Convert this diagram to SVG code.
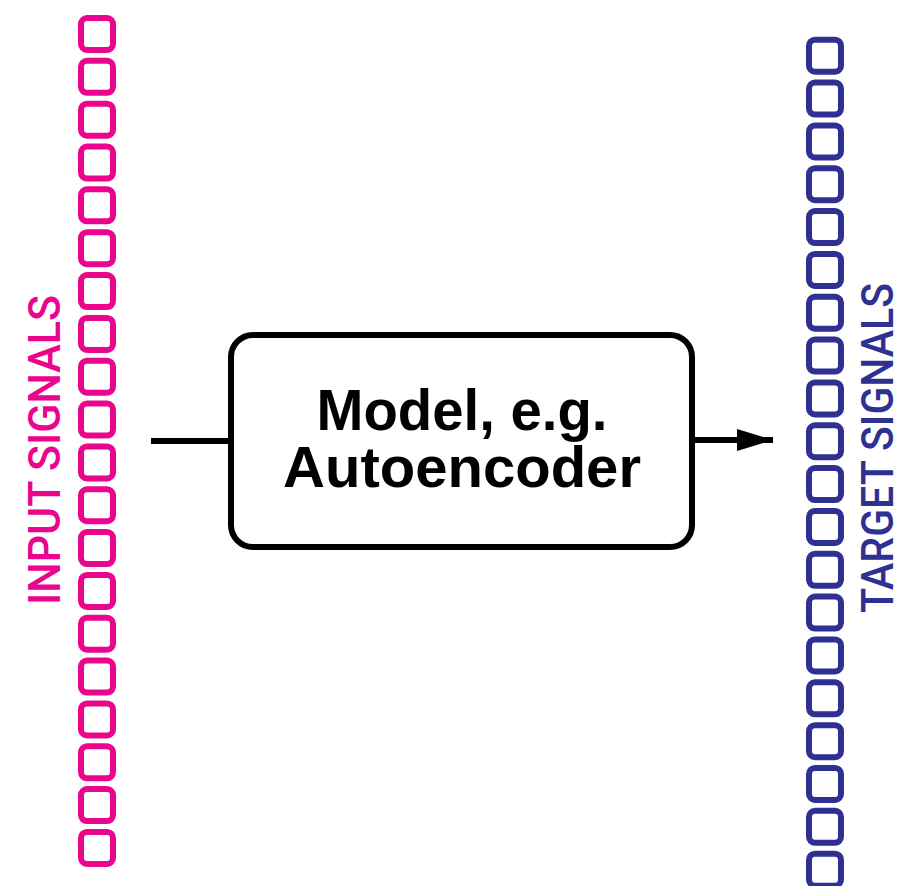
<svg xmlns="http://www.w3.org/2000/svg" xmlns:xlink="http://www.w3.org/1999/xlink" width="897" height="886" viewBox="0 0 897 886">
  <style>
    .cell { fill: none; stroke-width: 6; }
    .in { stroke: #EA068C; }
    .out { stroke: #2E3192; }
    .side { font-family: Roboto, "Liberation Sans", Arial, sans-serif; font-size: 45px; font-weight: 500; }
    .model { font-family: "Liberation Sans", Arial, sans-serif; font-size: 58px; font-weight: bold; fill: #000; text-anchor: middle; }
    .wire { stroke: #000; stroke-width: 6; fill: none; }
  </style>
  <defs>
    <rect id="cell" width="32" height="32" rx="6" ry="6"/>
    <marker id="arrow" markerUnits="userSpaceOnUse" markerWidth="38" markerHeight="24" refX="36" refY="11" orient="auto">
      <path d="M0,0 L36,11 L0,22 Z" fill="#000"/>
    </marker>
  </defs>

  <rect width="897" height="886" fill="#fff"/>

  <!-- input signal column -->
  <g id="input-signals" class="cell in">
    <use xlink:href="#cell" x="81" y="18"/>
    <use xlink:href="#cell" x="81" y="60.84"/>
    <use xlink:href="#cell" x="81" y="103.68"/>
    <use xlink:href="#cell" x="81" y="146.52"/>
    <use xlink:href="#cell" x="81" y="189.36"/>
    <use xlink:href="#cell" x="81" y="232.2"/>
    <use xlink:href="#cell" x="81" y="275.04"/>
    <use xlink:href="#cell" x="81" y="317.88"/>
    <use xlink:href="#cell" x="81" y="360.72"/>
    <use xlink:href="#cell" x="81" y="403.56"/>
    <use xlink:href="#cell" x="81" y="446.4"/>
    <use xlink:href="#cell" x="81" y="489.24"/>
    <use xlink:href="#cell" x="81" y="532.08"/>
    <use xlink:href="#cell" x="81" y="574.92"/>
    <use xlink:href="#cell" x="81" y="617.76"/>
    <use xlink:href="#cell" x="81" y="660.6"/>
    <use xlink:href="#cell" x="81" y="703.44"/>
    <use xlink:href="#cell" x="81" y="746.28"/>
    <use xlink:href="#cell" x="81" y="789.12"/>
    <use xlink:href="#cell" x="81" y="831.96"/>
  </g>
  <g id="input-label">
    <text class="side" fill="#EA068C" text-anchor="middle" textLength="310" lengthAdjust="spacingAndGlyphs" transform="translate(60,450) rotate(-90)">INPUT SIGNALS</text>
  </g>

  <!-- target signal column -->
  <g id="target-signals" class="cell out">
    <use xlink:href="#cell" x="809" y="39.7"/>
    <use xlink:href="#cell" x="809" y="82.54"/>
    <use xlink:href="#cell" x="809" y="125.38"/>
    <use xlink:href="#cell" x="809" y="168.22"/>
    <use xlink:href="#cell" x="809" y="211.06"/>
    <use xlink:href="#cell" x="809" y="253.9"/>
    <use xlink:href="#cell" x="809" y="296.74"/>
    <use xlink:href="#cell" x="809" y="339.58"/>
    <use xlink:href="#cell" x="809" y="382.42"/>
    <use xlink:href="#cell" x="809" y="425.26"/>
    <use xlink:href="#cell" x="809" y="468.1"/>
    <use xlink:href="#cell" x="809" y="510.94"/>
    <use xlink:href="#cell" x="809" y="553.78"/>
    <use xlink:href="#cell" x="809" y="596.62"/>
    <use xlink:href="#cell" x="809" y="639.46"/>
    <use xlink:href="#cell" x="809" y="682.3"/>
    <use xlink:href="#cell" x="809" y="725.14"/>
    <use xlink:href="#cell" x="809" y="767.98"/>
    <use xlink:href="#cell" x="809" y="810.82"/>
    <use xlink:href="#cell" x="809" y="853.66"/>
  </g>
  <g id="target-label">
    <text class="side" fill="#2E3192" text-anchor="middle" textLength="330" lengthAdjust="spacingAndGlyphs" transform="translate(893,448) rotate(-90)">TARGET SIGNALS</text>
  </g>

  <!-- model block -->
  <g id="model">
    <rect x="231" y="335" width="461" height="212" rx="22" ry="22" fill="#fff" stroke="#000" stroke-width="6"/>
    <text class="model" x="462" y="430" textLength="291" lengthAdjust="spacingAndGlyphs">Model, e.g.</text>
    <text class="model" x="462" y="487" textLength="358" lengthAdjust="spacingAndGlyphs">Autoencoder</text>
  </g>

  <!-- connectors -->
  <g id="connectors">
    <line class="wire" x1="151" y1="441" x2="231" y2="441"/>
    <line class="wire" x1="692" y1="440" x2="773" y2="440" marker-end="url(#arrow)"/>
  </g>
</svg>
